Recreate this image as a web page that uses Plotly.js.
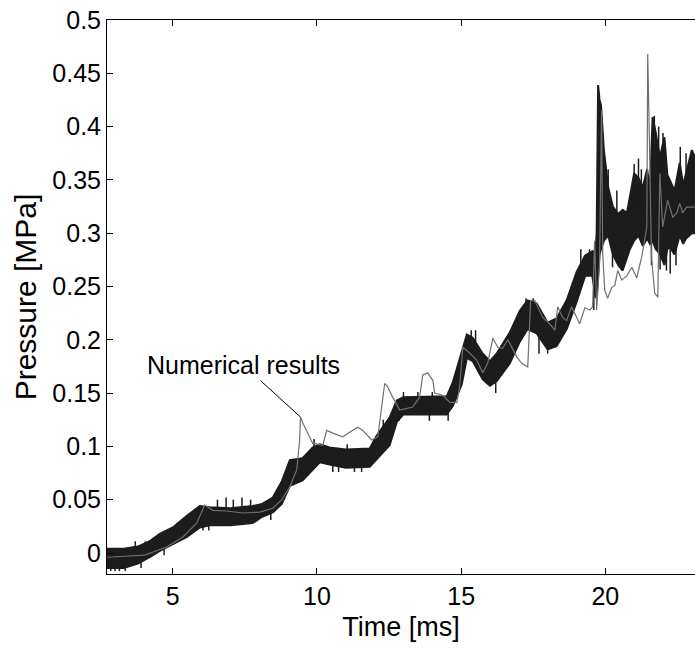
<!DOCTYPE html>
<html>
<head>
<meta charset="utf-8">
<script src="https://cdn.plot.ly/plotly-3.0.1.min.js"></script>
<style>html,body{margin:0;padding:0;background:#fff;overflow:hidden;}</style>
</head>
<body>
<div id="chart" style="width:695px;height:652px;"></div>
<script>
// Experimental pressure record: upper and lower edge of the noisy band
const tExp = [2.72, 3.30, 3.79, 4.20, 4.55, 5.00, 5.49, 5.94, 6.28, 7.00, 7.77, 8.10, 8.47, 8.78, 9.06, 9.50, 9.85, 10.10, 10.44, 11.00, 11.83, 12.07, 12.52, 12.77, 13.00, 14.50, 14.71, 15.02, 15.20, 15.40, 15.75, 16.00, 16.23, 16.69, 17.03, 17.30, 17.62, 18.00, 18.31, 18.66, 19.01, 19.30, 19.55, 19.66, 19.70, 19.75, 19.80, 19.85, 19.95, 20.10, 20.26, 20.45, 20.60, 20.75, 20.85, 21.00, 21.15, 21.30, 21.45, 21.55, 21.64, 21.75, 21.89, 22.05, 22.15, 22.23, 22.40, 22.58, 22.70, 22.80, 23.00, 23.30];
const pExpHigh = [0.004, 0.004, 0.006, 0.011, 0.018, 0.024, 0.035, 0.044, 0.043, 0.042, 0.044, 0.046, 0.052, 0.067, 0.087, 0.089, 0.099, 0.102, 0.099, 0.097, 0.098, 0.110, 0.127, 0.143, 0.146, 0.147, 0.160, 0.187, 0.205, 0.202, 0.187, 0.180, 0.187, 0.207, 0.227, 0.237, 0.234, 0.216, 0.220, 0.237, 0.264, 0.279, 0.283, 0.283, 0.300, 0.439, 0.425, 0.420, 0.378, 0.343, 0.325, 0.318, 0.322, 0.319, 0.335, 0.356, 0.352, 0.343, 0.360, 0.340, 0.409, 0.394, 0.371, 0.390, 0.355, 0.350, 0.340, 0.366, 0.345, 0.356, 0.378, 0.360];
const pExpLow = [-0.014, -0.014, -0.010, -0.004, 0.002, 0.008, 0.015, 0.024, 0.026, 0.026, 0.028, 0.034, 0.038, 0.046, 0.063, 0.068, 0.078, 0.085, 0.083, 0.080, 0.081, 0.088, 0.101, 0.123, 0.130, 0.130, 0.138, 0.158, 0.183, 0.180, 0.163, 0.157, 0.161, 0.178, 0.198, 0.210, 0.206, 0.191, 0.194, 0.210, 0.236, 0.260, 0.260, 0.240, 0.240, 0.260, 0.280, 0.285, 0.293, 0.298, 0.280, 0.270, 0.265, 0.277, 0.285, 0.293, 0.298, 0.288, 0.295, 0.290, 0.293, 0.285, 0.281, 0.270, 0.285, 0.287, 0.280, 0.298, 0.290, 0.295, 0.300, 0.300];

// Short noise spikes that stick out of the band: time, spike start, spike end
const tSpike = [2.85, 3.00, 3.15, 3.35, 3.70, 3.90, 4.05, 4.70, 6.05, 6.25, 6.55, 6.85, 7.10, 7.40, 7.70, 8.40, 8.65, 9.20, 9.90, 10.55, 10.75, 11.05, 11.30, 11.55, 12.30, 12.85, 13.00, 13.50, 13.90, 14.00, 14.55, 14.65, 15.35, 15.50, 16.20, 17.25, 17.50, 17.70, 18.00, 19.15, 19.45, 19.60, 19.87, 20.10, 20.25, 20.40, 20.50, 20.55, 21.00, 21.15, 21.25, 21.60, 21.70, 21.85, 21.90, 22.00, 22.12, 22.25, 22.45, 22.60, 22.80, 23.05];
const pSpikeA = [-0.010, -0.010, -0.010, -0.010, 0.002, -0.008, 0.002, 0.004, 0.028, 0.028, 0.040, 0.040, 0.040, 0.040, 0.040, 0.038, 0.050, 0.070, 0.098, 0.085, 0.085, 0.095, 0.085, 0.085, 0.100, 0.130, 0.143, 0.143, 0.130, 0.143, 0.135, 0.143, 0.198, 0.198, 0.160, 0.230, 0.230, 0.210, 0.195, 0.262, 0.278, 0.260, 0.300, 0.320, 0.280, 0.300, 0.275, 0.270, 0.320, 0.320, 0.320, 0.295, 0.350, 0.340, 0.281, 0.340, 0.290, 0.287, 0.290, 0.330, 0.330, 0.330];
const pSpikeB = [-0.017, -0.017, -0.017, -0.017, 0.011, -0.014, 0.011, -0.002, 0.021, 0.021, 0.050, 0.052, 0.050, 0.052, 0.050, 0.031, 0.058, 0.064, 0.107, 0.076, 0.076, 0.102, 0.076, 0.076, 0.125, 0.124, 0.151, 0.151, 0.124, 0.151, 0.124, 0.151, 0.209, 0.209, 0.150, 0.239, 0.239, 0.187, 0.187, 0.285, 0.285, 0.228, 0.410, 0.360, 0.268, 0.340, 0.268, 0.268, 0.365, 0.370, 0.360, 0.270, 0.410, 0.400, 0.266, 0.394, 0.265, 0.262, 0.270, 0.381, 0.375, 0.370];

// Numerical results
const tNum = [2.72, 4.03, 4.79, 5.35, 5.83, 6.11, 6.39, 6.87, 7.43, 8.02, 8.47, 8.78, 9.06, 9.30, 9.40, 9.43, 9.51, 9.85, 10.20, 10.34, 10.55, 10.89, 11.41, 11.59, 11.90, 12.11, 12.35, 12.45, 12.63, 12.87, 13.32, 13.56, 13.67, 13.84, 14.02, 14.08, 14.36, 14.60, 14.85, 14.95, 15.06, 15.30, 15.54, 15.75, 15.92, 16.10, 16.27, 16.44, 16.62, 16.93, 17.10, 17.31, 17.41, 17.55, 17.83, 18.07, 18.25, 18.35, 18.52, 18.66, 18.83, 19.01, 19.11, 19.29, 19.46, 19.56, 19.63, 19.70, 19.80, 19.87, 19.91, 19.98, 20.08, 20.22, 20.33, 20.43, 20.57, 20.74, 20.92, 21.09, 21.26, 21.44, 21.47, 21.53, 21.60, 21.71, 21.82, 21.89, 21.99, 22.16, 22.34, 22.48, 22.58, 22.68, 22.82, 23.10];
const pNum = [-0.004, -0.002, 0.0056, 0.015, 0.028, 0.045, 0.040, 0.0394, 0.0375, 0.0384, 0.042, 0.050, 0.062, 0.078, 0.106, 0.1275, 0.122, 0.103, 0.101, 0.115, 0.1125, 0.109, 0.118, 0.115, 0.106, 0.109, 0.159, 0.156, 0.146, 0.134, 0.137, 0.146, 0.167, 0.169, 0.162, 0.150, 0.148, 0.1415, 0.141, 0.156, 0.193, 0.1875, 0.181, 0.169, 0.178, 0.2015, 0.193, 0.192, 0.200, 0.184, 0.178, 0.1745, 0.237, 0.237, 0.221, 0.215, 0.209, 0.231, 0.221, 0.218, 0.231, 0.221, 0.215, 0.230, 0.228, 0.231, 0.293, 0.228, 0.272, 0.415, 0.281, 0.2465, 0.239, 0.249, 0.251, 0.265, 0.256, 0.260, 0.268, 0.258, 0.2775, 0.306, 0.468, 0.387, 0.2775, 0.244, 0.240, 0.356, 0.306, 0.331, 0.315, 0.319, 0.328, 0.319, 0.3245, 0.3245];

const xTicks = [5, 10, 15, 20];
const yTicks = [0, 0.05, 0.1, 0.15, 0.2, 0.25, 0.3, 0.35, 0.4, 0.45, 0.5];
const yTickText = ['0', '0.05', '0.1', '0.15', '0.2', '0.25', '0.3', '0.35', '0.4', '0.45', '0.5'];

const FONT = 'Liberation Sans, Arial, Helvetica, sans-serif';
const BAND = '#1c1c1c';

// vertical segments for the spikes (built from the spike arrays)
const spX = [], spY = [];
tSpike.forEach((t, i) => { spX.push(t, t, null); spY.push(pSpikeA[i], pSpikeB[i], null); });

const traces = [
  {x: tExp, y: pExpLow, mode: 'lines', line: {color: BAND, width: 2}, showlegend: false},
  {x: tExp, y: pExpHigh, mode: 'lines', fill: 'tonexty', fillcolor: BAND, line: {color: BAND, width: 2}, showlegend: false},
  {x: spX, y: spY, mode: 'lines', line: {color: BAND, width: 1.5}, connectgaps: false, showlegend: false},
  {x: tNum, y: pNum, mode: 'lines', line: {color: '#707070', width: 1.2}, showlegend: false}
];

const layout = {
  width: 695, height: 652,
  margin: {l: 107, r: 0, t: 20, b: 78},
  paper_bgcolor: '#fff', plot_bgcolor: '#fff',
  font: {family: FONT, color: '#000', size: 25},
  xaxis: {
    range: [2.72, 23.11], tickvals: xTicks, ticks: 'inside', ticklen: 6, tickcolor: '#000',
    showline: true, linecolor: '#000', linewidth: 1, mirror: 'ticks',
    showgrid: false, zeroline: false,
    tickfont: {family: FONT, size: 25},
    title: {text: 'Time [ms]', font: {family: FONT, size: 27}, standoff: 8}
  },
  yaxis: {
    range: [-0.0197, 0.5], tickvals: yTicks, ticktext: yTickText, ticks: 'inside', ticklen: 6, tickcolor: '#000',
    showline: true, linecolor: '#000', linewidth: 1, mirror: false,
    showgrid: false, zeroline: false,
    tickfont: {family: FONT, size: 25},
    title: {text: 'Pressure [MPa]', font: {family: FONT, size: 30}, standoff: 6}
  },
  annotations: [{
    x: 9.43, y: 0.1275, xref: 'x', yref: 'y',
    text: 'Numerical results', font: {family: FONT, size: 25, color: '#000'},
    showarrow: true, arrowhead: 0, arrowwidth: 1, arrowcolor: '#000',
    ax: -57, ay: -52
  }]
};

Plotly.newPlot('chart', traces, layout, {staticPlot: true, displayModeBar: false});
</script>
</body>
</html>
